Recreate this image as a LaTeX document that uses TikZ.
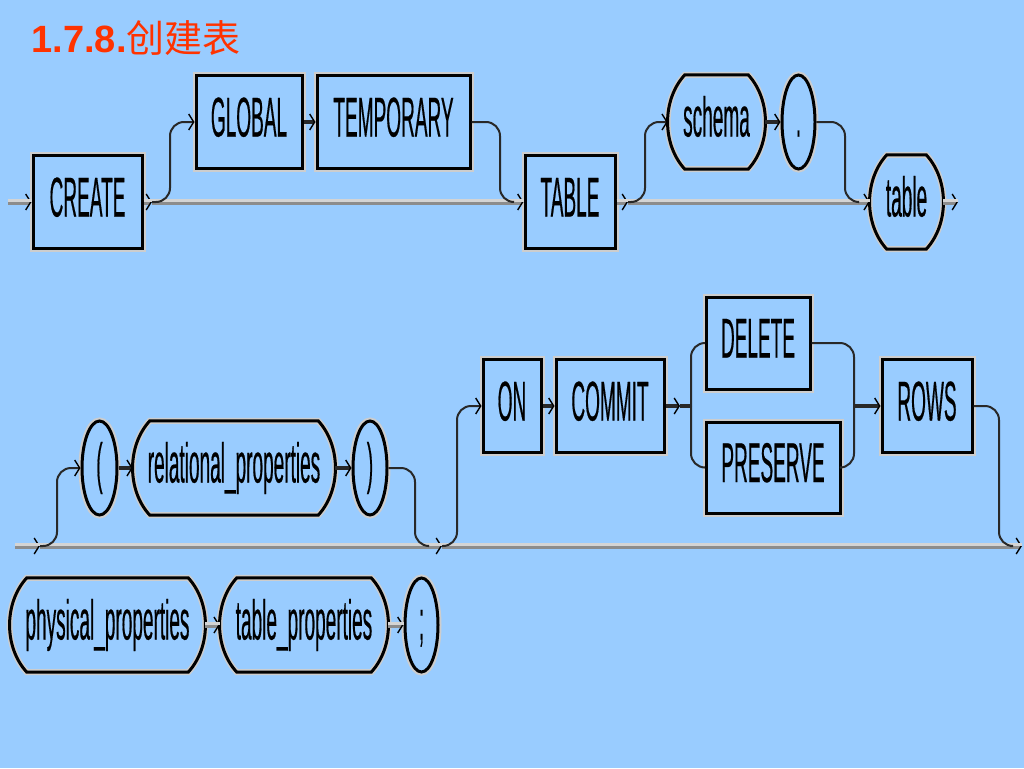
\documentclass[tikz,border=0pt]{standalone}
\usepackage{fontspec}
\setmainfont{Liberation Sans}
\newfontfamily\railfont[FakeStretch=0.34,FakeBold=0.3]{Liberation Sans}
\newfontfamily\cjk{Noto Sans CJK SC}
\usetikzlibrary{arrows.meta,positioning,shapes.geometric}
\definecolor{bgblue}{RGB}{153,204,255}
\definecolor{titlered}{RGB}{255,51,0}
\definecolor{railgray}{RGB}{140,140,140}
\definecolor{railhi}{RGB}{212,212,212}
\definecolor{shade}{RGB}{205,205,205}
\definecolor{linkgray}{RGB}{40,40,40}
\tikzset{
  tokentext/.style={inner sep=0pt, font=\railfont\fontsize{56}{60}\selectfont,
    text height=41pt, text depth=12pt},
  token/.style={tokentext, draw=black, line width=3pt, fill=bgblue,
    preaction={draw=shade, line width=7pt}},
  kw/.style={token, rectangle, minimum height=93pt},
  ident/.style={tokentext, rectangle, minimum height=94pt},
  identline/.style={draw=black, line width=3pt, preaction={draw=shade, line width=6pt}},
  punct/.style={token, ellipse, minimum width=34pt, minimum height=94pt},
  rail/.style={draw=railgray, line width=6pt,
    postaction={draw=railhi, line width=2.5pt, arrows=-, transform canvas={yshift=1.5pt}}},
  link/.style={draw=linkgray, line width=2pt, rounded corners=14pt},
  seq/.style={draw=linkgray, line width=4pt}
}
% frame with bulging ends round an ident node
\newcommand{\identframe}[1]{%
  \draw[identline] ([xshift=17pt]#1.north west) -- ([xshift=-17pt]#1.north east)
    .. controls +(23,25) and +(23,-25) .. ([xshift=-17pt]#1.south east)
    -- ([xshift=17pt]#1.south west)
    .. controls +(-23,-25) and +(-23,25) .. ([xshift=17pt]#1.north west) -- cycle;}
\begin{document}
\begin{tikzpicture}[x=1pt, y=-1pt,
    >={Straight Barb[length=5pt,width=16pt,line width=1.4pt,color=black]}]
      \fill[bgblue] (0,0) rectangle (1024,768);
      \useasboundingbox (0,0) rectangle (1024,768);

      \node[anchor=west, text=titlered, font=\fontsize{38}{44}\selectfont] (title) at (28,38) {\textbf{1.7.8.}{\cjk 创建表}};

      % first line
      \node[kw, minimum width=109pt] (create) at (87.5,202) {CREATE};
      \node[kw, minimum width=106pt] (global) at (249,122) {GLOBAL};
      \node[kw, minimum width=153pt] (temporary) at (393.5,122) {TEMPORARY};
      \node[kw, minimum width=90pt] (tablekw) at (570,202) {TABLE};
      \node[ident, minimum width=97pt] (schema) at (716.5,122) {schema};
      \node[punct, minimum width=33pt] (dot) at (798.5,122) {.};
      \node[ident, minimum width=73pt] (tablename) at (906.5,202) {table};
      \identframe{schema}
      \identframe{tablename}

      \coordinate (in1) at (8,202);
      \coordinate (fork1) at (152,202);
      \coordinate (up1) at (170,202);
      \coordinate (down1) at (500,202);
      \coordinate (back1) at (514,202);
      \coordinate (fork2) at (628,202);
      \coordinate (up2) at (645,202);
      \coordinate (down2) at (845,202);
      \coordinate (back2) at (858,202);
      \coordinate (out1) at (958,202);

      \draw[rail,->] (in1) -- (create.west);
      \draw[rail,->] (create.east) -- (fork1);
      \draw[rail,->] (fork1) -- (tablekw.west);
      \draw[rail,->] (tablekw.east) -- (fork2);
      \draw[rail,->] (fork2) -- (tablename.west);
      \draw[rail,->] (tablename.east) -- (out1);

      \draw[link,->] (fork1) -- (up1) |- (global.west);
      \draw[seq,->] (global.east) -- (temporary.west);
      \draw[link] (temporary.east) -| (down1) -- (back1);
      \draw[link,->] (fork2) -- (up2) |- (schema.west);
      \draw[seq,->] (schema.east) -- (dot.west);
      \draw[link] (dot.east) -| (down2) -- (back2);

      % second line
      \node[punct, minimum width=35pt] (lparen) at (99.5,468) {(};
      \node[ident, minimum width=202pt] (relprops) at (234,468) {relational\_properties};
      \node[punct, minimum width=34pt] (rparen) at (370,468) {)};
      \node[kw, minimum width=58pt] (on) at (512,406) {ON};
      \node[kw, minimum width=108pt] (commit) at (610,406) {COMMIT};
      \node[kw, minimum width=104pt, minimum height=92pt] (delete) at (758,343) {DELETE};
      \node[kw, minimum width=134pt, minimum height=91pt] (preserve) at (773,467.5) {PRESERVE};
      \node[kw, minimum width=90pt] (rows) at (927,406) {ROWS};
      \identframe{relprops}

      \coordinate (in2) at (15,546);
      \coordinate (fork3) at (40,546);
      \coordinate (up3) at (57,546);
      \coordinate (down3) at (415,546);
      \coordinate (back3) at (428,546);
      \coordinate (fork4) at (442,546);
      \coordinate (up4) at (457,546);
      \coordinate (split1) at (680,406);
      \coordinate (split2) at (691,406);
      \coordinate (merge1) at (854,406);
      \coordinate (down4) at (999,546);
      \coordinate (back4) at (1010,546);
      \coordinate (out2) at (1022,546);

      \draw[rail,->] (in2) -- (fork3);
      \draw[rail,->] (fork3) -- (fork4);
      \draw[rail,->] (fork4) -- (out2);

      \draw[link,->] (fork3) -- (up3) |- (lparen.west);
      \draw[seq,->] (lparen.east) -- (relprops.west);
      \draw[seq,->] (relprops.east) -- (rparen.west);
      \draw[link] (rparen.east) -| (down3) -- (back3);

      \draw[link,->] (fork4) -- (up4) |- (on.west);
      \draw[seq,->] (on.east) -- (commit.west);
      \draw[seq,->] (commit.east) -- (split1);
      \draw[seq] (split1) -- (split2);
      \draw[link] (split2) |- (delete.west);
      \draw[link] (split2) |- (preserve.west);
      \draw[link] (delete.east) -| (merge1);
      \draw[link] (preserve.east) -| (merge1);
      \draw[seq,->] (merge1) -- (rows.west);
      \draw[link] (rows.east) -| (down4) -- (back4);

      % third line
      \node[ident, minimum width=195pt] (physprops) at (107.5,625) {physical\_properties};
      \node[ident, minimum width=168pt] (tableprops) at (304,625) {table\_properties};
      \node[punct, minimum width=33pt] (semi) at (421.5,625) {;};
      \identframe{physprops}
      \identframe{tableprops}

      \draw[rail,->] (physprops.east) -- (tableprops.west);
      \draw[rail,->] (tableprops.east) -- (semi.west);
\end{tikzpicture}
\end{document}
